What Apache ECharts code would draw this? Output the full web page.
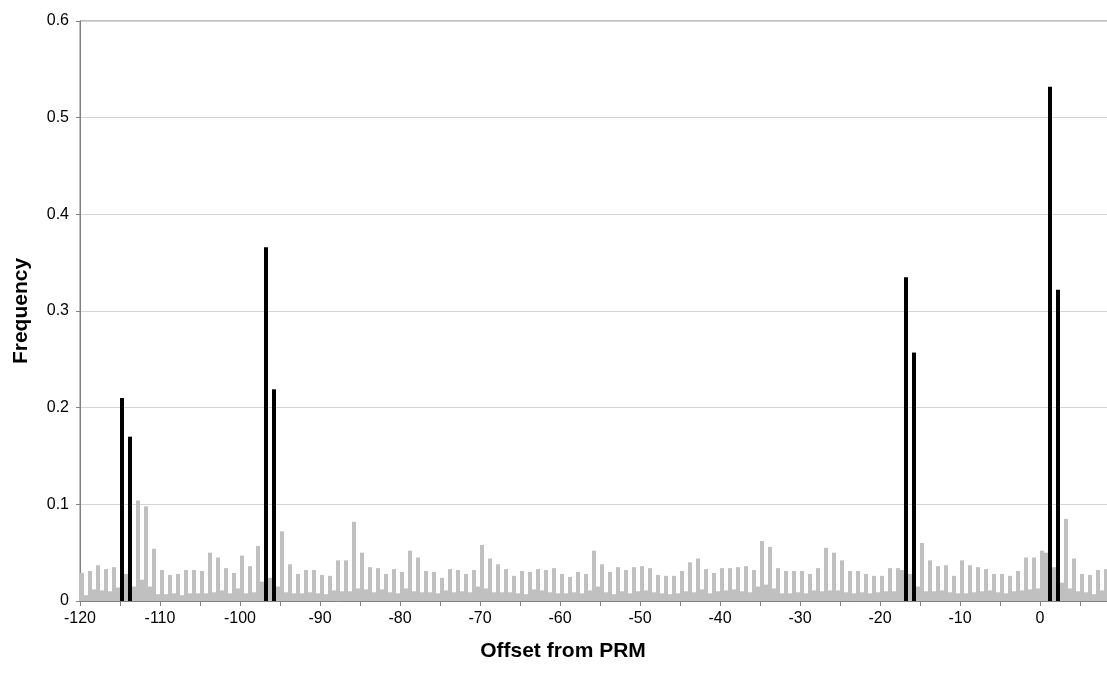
<!DOCTYPE html>
<html>
<head>
<meta charset="utf-8">
<script src="https://cdn.jsdelivr.net/npm/echarts@6/dist/echarts.min.js"></script>
<style>
html,body{margin:0;padding:0;background:#fff;overflow:hidden;width:1107px;height:673px;}
#chart{width:1112px;height:673px;}
</style>
</head>
<body>
<div id="chart"></div>
<script>
// Offsets from PRM (categories)
const offsets = [];
for (let k = -120; k <= 8; k++) offsets.push(k);

// Gray "tall" series (left bar of each pair); null where a black peak sits
const grayTall = [
  0.029,0.031,0.037,0.033,0.035,null,null,0.104,0.098,0.054,   // -120..-111
  0.032,0.027,0.028,0.032,0.032,0.031,0.050,0.045,0.034,0.029, // -110..-101
  0.047,0.036,0.057,null,null,0.072,0.038,0.028,0.032,0.032,   // -100..-91
  0.027,0.026,0.042,0.042,0.082,0.050,0.035,0.034,0.028,0.033, // -90..-81
  0.030,0.052,0.045,0.031,0.030,0.024,0.033,0.032,0.028,0.032, // -80..-71
  0.058,0.044,0.038,0.033,0.026,0.031,0.030,0.033,0.032,0.034, // -70..-61
  0.028,0.025,0.030,0.028,0.052,0.038,0.030,0.035,0.032,0.035, // -60..-51
  0.036,0.034,0.027,0.026,0.026,0.031,0.040,0.044,0.033,0.029, // -50..-41
  0.034,0.034,0.035,0.036,0.032,0.062,0.056,0.034,0.031,0.031, // -40..-31
  0.031,0.028,0.034,0.055,0.050,0.042,0.031,0.031,0.028,0.026, // -30..-21
  0.026,0.034,0.034,null,null,0.060,0.042,0.036,0.037,0.026,   // -20..-11
  0.042,0.037,0.035,0.033,0.028,0.028,0.026,0.031,0.045,0.045, // -10..-1
  0.052,null,null,0.085,0.044,0.028,0.027,0.032,0.033          // 0..8
];

// Gray "short" series (right bar of each pair)
const grayShort = [
  0.006,0.012,0.011,0.010,0.014,0.028,0.015,0.022,0.015,0.007, // -120..-111
  0.007,0.008,0.006,0.008,0.008,0.008,0.009,0.011,0.008,0.013, // -110..-101
  0.008,0.009,0.020,0.024,0.015,0.009,0.008,0.008,0.009,0.008, // -100..-91
  0.007,0.011,0.010,0.010,0.013,0.012,0.009,0.012,0.009,0.008, // -90..-81
  0.013,0.010,0.009,0.009,0.008,0.011,0.009,0.010,0.009,0.015, // -80..-71
  0.013,0.009,0.009,0.009,0.008,0.007,0.012,0.011,0.009,0.008, // -70..-61
  0.008,0.009,0.008,0.011,0.015,0.009,0.007,0.010,0.008,0.010, // -60..-51
  0.011,0.009,0.008,0.007,0.008,0.010,0.009,0.012,0.008,0.010, // -50..-41
  0.011,0.012,0.010,0.009,0.015,0.017,0.013,0.008,0.008,0.009, // -40..-31
  0.008,0.011,0.010,0.011,0.011,0.009,0.008,0.009,0.008,0.009, // -30..-21
  0.010,0.010,0.032,0.028,0.015,0.010,0.010,0.011,0.009,0.008, // -20..-11
  0.008,0.009,0.010,0.011,0.009,0.008,0.010,0.011,0.012,0.013, // -10..-1
  0.050,0.035,0.019,0.013,0.010,0.009,0.007,0.011,0.010        // 0..8
];

// Black peaks
const peakOffsets = [-115, -114, -97, -96, -17, -16, 1, 2];
const peakValues  = [0.210, 0.170, 0.366, 0.219, 0.335, 0.257, 0.532, 0.322];

// Axis ticks
const yTicks = [0, 0.1, 0.2, 0.3, 0.4, 0.5, 0.6];

const peakSeries = offsets.map(k => {
  const i = peakOffsets.indexOf(k);
  return i >= 0 ? peakValues[i] : null;
});

const chart = echarts.init(document.getElementById('chart'), null, {renderer: 'canvas'});
const font = '"Liberation Sans", Arial, sans-serif';
chart.setOption({
  animation: false,
  backgroundColor: '#ffffff',
  grid: {
    left: 80, top: 21, right: 0, bottom: 72,
    show: true, borderColor: '#808080', borderWidth: 1, backgroundColor: 'transparent'
  },
  xAxis: [
    {
      type: 'category', data: offsets.map(String), boundaryGap: true,
      show: false, gridIndex: 0
    },
    {
      type: 'value', min: -120, max: 9, interval: 5, position: 'bottom', gridIndex: 0,
      axisLine: {show: true, onZero: false, lineStyle: {color: '#808080', width: 1}},
      axisTick: {show: true, length: 5, lineStyle: {color: '#808080'}},
      splitLine: {show: false},
      axisLabel: {
        margin: 10, color: '#000', fontFamily: font, fontSize: 16,
        showMaxLabel: false,
        formatter: v => (Math.round(v) % 10 === 0 ? String(v) : '')
      },
      name: 'Offset from PRM', nameLocation: 'middle', nameGap: 40,
      nameTextStyle: {fontFamily: font, fontSize: 21, fontWeight: 'bold', color: '#000',
        padding: [0, 66, 0, 0]}
    }
  ],
  yAxis: {
    type: 'value', min: yTicks[0], max: yTicks[yTicks.length - 1], interval: 0.1,
    axisLine: {show: true, onZero: false, lineStyle: {color: '#808080', width: 1}},
    axisTick: {show: true, length: 4, lineStyle: {color: '#808080'}},
    splitLine: {show: true, lineStyle: {color: '#d4d4d4', width: 1}},
    axisLabel: {margin: 11, color: '#000', fontFamily: font, fontSize: 16,
      formatter: v => String(Math.round(v * 10) / 10)},
    name: 'Frequency', nameLocation: 'middle', nameGap: 48, nameRotate: 90,
    nameTextStyle: {fontFamily: font, fontSize: 21, fontWeight: 'bold', color: '#000'}
  },
  series: [
    {
      name: 'tall', type: 'bar', xAxisIndex: 0, stack: 'a', data: grayTall,
      itemStyle: {color: '#c0c0c0'}, barGap: '0%', barCategoryGap: '0%'
    },
    {
      name: 'peak', type: 'bar', xAxisIndex: 0, stack: 'a', data: peakSeries,
      itemStyle: {color: '#000000'}, barGap: '0%', barCategoryGap: '0%'
    },
    {
      name: 'short', type: 'bar', xAxisIndex: 0, stack: 'b', data: grayShort,
      itemStyle: {color: '#c0c0c0'}, barGap: '0%', barCategoryGap: '0%'
    }
  ]
});
</script>
</body>
</html>
